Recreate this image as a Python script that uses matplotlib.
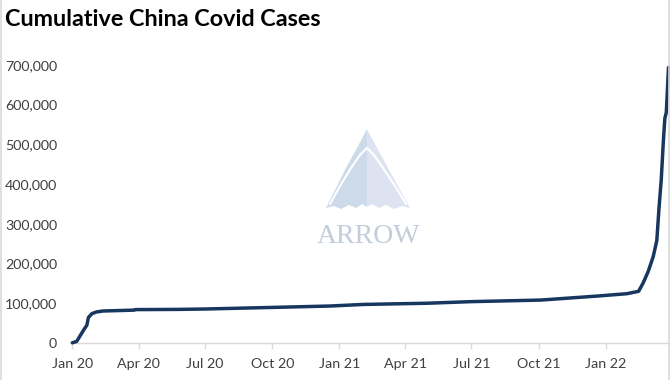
import datetime
import matplotlib
matplotlib.use('Agg')
import matplotlib.pyplot as plt
from matplotlib.patches import Polygon
from matplotlib.lines import Line2D
from matplotlib.ticker import FuncFormatter

# values
case_dates = ['2020-01-22', '2020-01-28', '2020-02-02', '2020-02-07', '2020-02-11',
              '2020-02-13', '2020-02-18', '2020-02-24', '2020-03-04', '2020-04-16',
              '2020-04-17', '2020-06-13', '2020-07-22', '2020-10-22', '2021-01-09',
              '2021-02-24', '2021-05-22', '2021-07-21', '2021-10-25', '2022-01-10',
              '2022-02-20', '2022-03-08', '2022-03-14', '2022-03-21', '2022-03-28',
              '2022-04-02', '2022-04-05', '2022-04-08', '2022-04-11', '2022-04-13',
              '2022-04-15', '2022-04-18']
cum_cases = [500, 4000, 19000, 34000, 45000,
             64000, 74000, 78000, 80500, 82700,
             84000, 84500, 85500, 89500, 93000,
             97000, 100000, 104000, 108000, 118000,
             124000, 130000, 150000, 179000, 217000,
             258000, 340000, 409000, 509000, 565000,
             580000, 693000]

tick_dates = ['2020-01-22', '2020-04-22', '2020-07-22', '2020-10-22', '2021-01-22',
              '2021-04-22', '2021-07-22', '2021-10-22', '2022-01-22']
tick_labels = ['Jan 20', 'Apr 20', 'Jul 20', 'Oct 20', 'Jan 21',
               'Apr 21', 'Jul 21', 'Oct 21', 'Jan 22']
y_ticks = [0, 100000, 200000, 300000, 400000, 500000, 600000, 700000]

title = 'Cumulative China Covid Cases'
line_color = '#17375E'

plt.rcParams['font.family'] = ['Lato', 'DejaVu Sans']

W, H = 670, 380
fig = plt.figure(figsize=(W / 100, H / 100), dpi=100)
fig.patch.set_facecolor('white')


def px(x, y):
    # pixel position (from top-left) to figure fraction
    return (x / W, 1 - y / H)


# watermark logo behind the chart
left_half = [(367, 129), (357, 148), (346, 168), (336, 188), (326, 208), (334, 206),
             (341, 209), (349, 205), (356, 208), (362, 204), (367, 207)]
right_half = [(367, 129), (377, 148), (388, 168), (399, 188), (410, 208), (402, 206),
              (394, 209), (386, 205), (379, 208), (372, 204), (367, 207)]
fig.patches.append(Polygon([px(*p) for p in left_half], closed=True,
                           transform=fig.transFigure, facecolor='#CCDAE9',
                           edgecolor='none', zorder=0))
fig.patches.append(Polygon([px(*p) for p in right_half], closed=True,
                           transform=fig.transFigure, facecolor='#DEE3F1',
                           edgecolor='none', zorder=0))
arc = [(330, 204), (340, 186), (351, 168), (360, 155), (367, 148),
       (374, 155), (383, 168), (395, 186), (406, 204)]
fig.lines.append(Line2D([px(*p)[0] for p in arc], [px(*p)[1] for p in arc],
                        transform=fig.transFigure, color='white', lw=1.5, zorder=0.5))
fig.text(*px(368, 236), 'ARROW', fontsize=20, color='#C3CCDB', ha='center', va='center',
         family='Liberation Serif', zorder=0)

# chart border lines left and right
fig.lines.append(Line2D([0.002, 0.002], [0, 1], transform=fig.transFigure, color='#D9D9D9', lw=1.2))
fig.lines.append(Line2D([669 / W, 669 / W], [0, 1], transform=fig.transFigure, color='#D9D9D9', lw=1.2))

ax = fig.add_axes([72.3 / W, 1 - 343 / H, (668.5 - 72.3) / W, (343 - 64.7) / H])
ax.patch.set_alpha(0)

x = [datetime.datetime.strptime(d, '%Y-%m-%d') for d in case_dates]
ax.plot(x, cum_cases, color=line_color, lw=2.5, solid_joinstyle='round',
        solid_capstyle='round', clip_on=False, zorder=3)

ax.set_xlim(x[0], x[-1])
ax.set_ylim(0, 700000)

ax.set_xticks([datetime.datetime.strptime(d, '%Y-%m-%d') for d in tick_dates])
ax.set_xticklabels(tick_labels)
ax.set_yticks(y_ticks)
ax.yaxis.set_major_formatter(FuncFormatter(lambda v, p: f'{int(v):,}'))

for s in ['top', 'right', 'left']:
    ax.spines[s].set_visible(False)
ax.spines['bottom'].set_color('#D9D9D9')
ax.spines['bottom'].set_linewidth(1.0)

ax.tick_params(axis='x', length=4, width=1, color='#D9D9D9', pad=7,
               labelsize=10.3, labelcolor='#404040')
ax.tick_params(axis='y', length=0, pad=11, labelsize=10.3, labelcolor='#404040')

fig.text(*px(5, 20), title, fontsize=16.8, fontweight='bold', color='black',
         ha='left', va='center')

fig.savefig('out.png', dpi=100)
